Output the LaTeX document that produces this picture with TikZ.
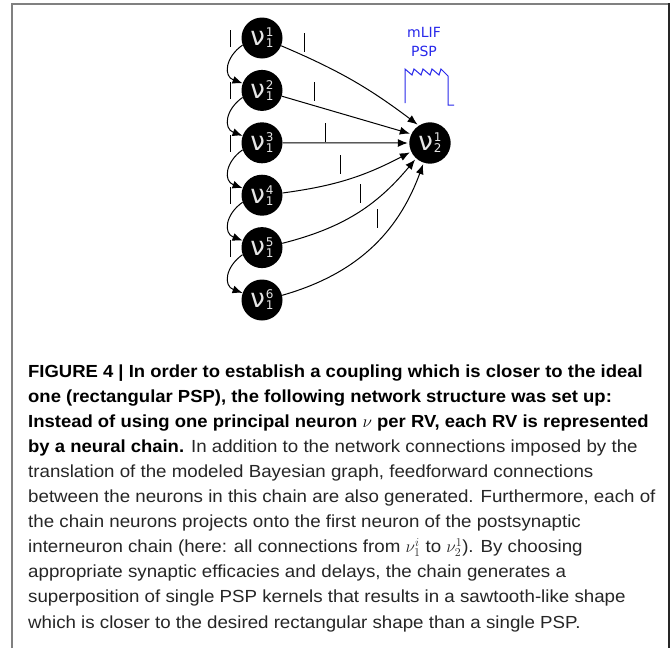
\documentclass[tikz,border=0pt]{standalone}
\usepackage{fontspec}
\usepackage{xcolor}
\usepackage{tikz}
\usetikzlibrary{arrows.meta}
\newfontfamily\nufont{DejaVu Sans}
\newfontfamily\capfont{Liberation Sans}[FakeStretch=1.07, BoldFeatures={FakeStretch=1.055}]
\definecolor{pspblue}{RGB}{40,40,235}
\newcommand\nlbl[2]{ν\hspace{1pt}\makebox[0pt][l]{\raisebox{9pt}{\fontsize{12}{12}\selectfont #1}}\raisebox{-2pt}{\fontsize{12}{12}\selectfont #2}}

\begin{document}
\begin{tikzpicture}[x=1pt, y=-1pt,
  nrn/.style={circle, fill=black, minimum size=41pt, inner sep=0pt, text=black!10, font=\nufont\fontsize{26}{26}\selectfont},
  post/.style={nrn, draw=white, line width=1.5pt, minimum size=43pt},
  syn/.style={-{Latex[length=10pt,width=8pt]}, line width=1pt},
  spk/.style={line width=1pt},
  frame/.style={line width=2pt, black!50}]
\useasboundingbox (0,0) rectangle (672,648);
\fill[white] (0,0) rectangle (672,648);
% figure frame
\draw[frame] (12,648) -- (12,4) -- (669,4);
\draw[line width=1.5pt, black!85] (669,3) -- (669,648);

% chain neurons and postsynaptic neuron
\foreach \i in {1,...,6}
  \node[nrn] (a\i) at (262, {38+52.4*(\i-1)}) {\nlbl{\i}{1}};
\node[post] (b) at (430,143) {\nlbl{1}{2}};

% feedforward connections inside the chain
\foreach \i [evaluate=\i as \j using int(\i+1)] in {1,...,5}
  \draw[syn] (a\i.200) to[out=215, in=160, looseness=1.4] (a\j.160);

% projections onto v_2^1
\draw[syn] (a1) to[bend left=7] (b.124);
\draw[syn] (a2) -- (b.155);
\draw[syn] (a3) -- (b.180);
\draw[syn] (a4) to[bend right=10] (b.205);
\draw[syn] (a5) to[bend right=18] (b.228);
\draw[syn] (a6) to[bend right=27] (b.252);

% spikes
\foreach \i in {1,...,5}
  \draw[spk] (230,{38+52.4*(\i-1)-8}) -- ++(0,17);
\foreach \x/\y in {304/33, 314/82, 325/123, 340/155, 360/184, 377/209}
  \draw[spk] (\x,\y) -- ++(0,19);

% PSP shape
\node[pspblue, font=\nufont\fontsize{14}{19}\selectfont, align=center, inner sep=0pt, anchor=south] (psplbl) at (424,57) {mLIF\\PSP};
\draw[pspblue, line width=1pt] (405,103) -- (405,69)
  -- (412,75) -- (414,69) -- (421,75) -- (423,69) -- (430,75) -- (432,69)
  -- (439,75) -- (441,69) -- (448,76) -- (448,105) -- (454,105);

% caption
\node[anchor=base west, inner sep=0pt, align=left, text=black!85, font=\capfont\fontsize{17.5}{25.1}\selectfont] (cap) at (28,628) {%
\textcolor{black}{\textbf{FIGURE 4 | In order to establish a coupling which is closer to the ideal}}\\
\textcolor{black}{\textbf{one (rectangular PSP), the following network structure was set up:}}\\
\textcolor{black}{\textbf{Instead of using one principal neuron $\nu$ per RV, each RV is represented}}\\
\textcolor{black}{\textbf{by a neural chain.}} In addition to the network connections imposed by the\\
translation of the modeled Bayesian graph, feedforward connections\\
between the neurons in this chain are also generated. Furthermore, each of\\
the chain neurons projects onto the first neuron of the postsynaptic\\
interneuron chain (here: all connections from $\nu_1^i$ to $\nu_2^1$). By choosing\\
appropriate synaptic efficacies and delays, the chain generates a\\
superposition of single PSP kernels that results in a sawtooth-like shape\\
which is closer to the desired rectangular shape than a single PSP.};
\end{tikzpicture}
\end{document}
